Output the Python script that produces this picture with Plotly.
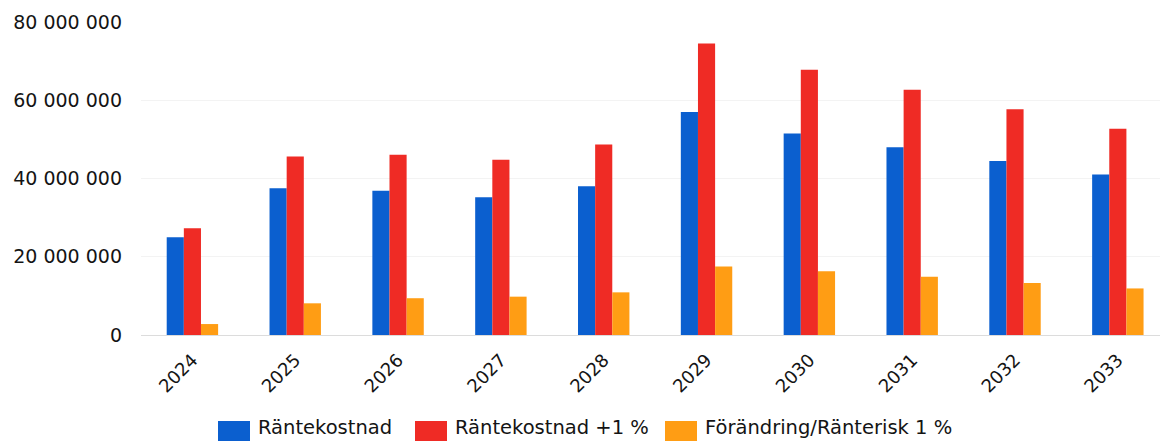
import plotly.graph_objects as go

years = ["2024", "2025", "2026", "2027", "2028", "2029", "2030", "2031", "2032", "2033"]
rantekostnad = [25.0e6, 37.5e6, 36.9e6, 35.2e6, 38.0e6, 57.0e6, 51.5e6, 48.0e6, 44.5e6, 41.0e6]
rantekostnad_plus1 = [27.3e6, 45.6e6, 46.1e6, 44.8e6, 48.7e6, 74.5e6, 67.8e6, 62.7e6, 57.7e6, 52.7e6]
forandring = [2.8e6, 8.1e6, 9.4e6, 9.8e6, 10.9e6, 17.5e6, 16.3e6, 14.9e6, 13.3e6, 11.9e6]

names = ["Räntekostnad", "Räntekostnad +1 %", "Förändring/Ränterisk 1 %"]
colors = ["#0b5fcf", "#ef2b25", "#ff9d14"]
y_ticks = [0, 20e6, 40e6, 60e6, 80e6]
y_labels = ["0", "20 000 000", "40 000 000", "60 000 000", "80 000 000"]

FONT = "DejaVu Sans"
TXT = "#141414"

W, H = 1160, 441
ML, MR, MT, MB = 141, 0, 22, 106
PW, PH = W - ML - MR, H - MT - MB


def px_x(px):
    return (px - ML) / PW


def px_y(py):
    return (H - MB - py) / PH


fig = go.Figure()
for name, vals, col in zip(names, [rantekostnad, rantekostnad_plus1, forandring], colors):
    fig.add_trace(go.Bar(x=years, y=vals, name=name, marker=dict(color=col, line=dict(width=0)),
                         showlegend=False))

fig.update_layout(
    width=W, height=H,
    margin=dict(l=ML, r=MR, t=MT, b=MB),
    paper_bgcolor="white", plot_bgcolor="white",
    barmode="group", bargap=0.5, bargroupgap=0,
    font=dict(family=FONT, color=TXT),
    xaxis=dict(type="category", range=[-0.5, 9.41], tickangle=-45, ticks="",
               tickfont=dict(size=18, family=FONT, color=TXT), showgrid=False,
               showline=False, zeroline=False, ticklabelstandoff=10),
    yaxis=dict(range=[0, 80e6], tickvals=y_ticks, ticktext=y_labels,
               tickfont=dict(size=19, family=FONT, color=TXT),
               showgrid=True, gridcolor="#f3f3f3", gridwidth=1,
               zeroline=True, zerolinecolor="#dcdcdc", zerolinewidth=1,
               showline=False, ticks="", ticklabelstandoff=18),
)

# custom legend (bottom)
legend_x = [218, 415, 665]
for i, (name, col) in enumerate(zip(names, colors)):
    fig.add_shape(type="rect", xref="paper", yref="paper",
                  x0=px_x(legend_x[i]), x1=px_x(legend_x[i] + 32),
                  y0=px_y(442), y1=px_y(421),
                  fillcolor=col, line=dict(width=0))
    fig.add_annotation(xref="paper", yref="paper", x=px_x(legend_x[i] + 38),
                       y=px_y(441), text=name, showarrow=False,
                       xanchor="left", yanchor="bottom",
                       font=dict(size=19.5, family=FONT, color=TXT))

fig.write_html("out.html", config={"displayModeBar": False},
               post_script="document.body.style.margin='0';document.body.style.overflow='hidden';")
